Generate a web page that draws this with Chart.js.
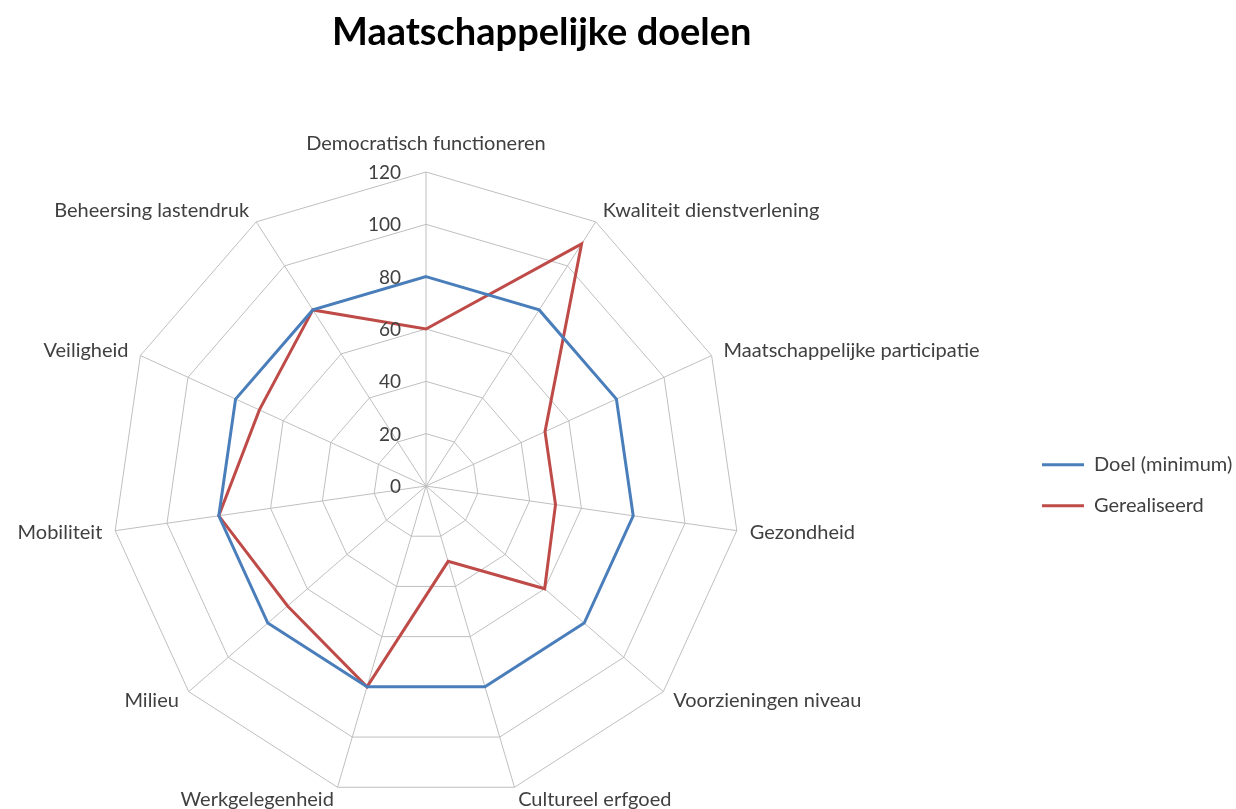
<!DOCTYPE html>
<html>
<head>
<meta charset="utf-8">
<script src="https://cdn.jsdelivr.net/npm/chart.js@4"></script>
<style>
  body { margin: 0; background: #fff; }
  #wrap { width: 1236px; height: 809px; position: relative; }
</style>
</head>
<body>
<div id="wrap"><canvas id="radar"></canvas></div>
<script>
const labels = [
  "Democratisch functioneren",
  "Kwaliteit dienstverlening",
  "Maatschappelijke participatie",
  "Gezondheid",
  "Voorzieningen niveau",
  "Cultureel erfgoed",
  "Werkgelegenheid",
  "Milieu",
  "Mobiliteit",
  "Veiligheid",
  "Beheersing lastendruk"
];
const doel = [80, 80, 80, 80, 80, 80, 80, 80, 80, 80, 80];
const gerealiseerd = [60, 110, 50, 50, 60, 30, 80, 70, 80, 70, 80];
const tickMin = 0;
const tickMax = 120;
const tickStep = 20;

const textColor = "#404040";
const fontFamily = "Lato, 'Open Sans', sans-serif";

// Excel-style labels: ticks left of the vertical axis, category names outside the corners
const excelLabels = {
  id: "excelLabels",
  afterDraw(chart) {
    const s = chart.scales.r;
    const ctx = chart.ctx;
    ctx.save();
    ctx.fillStyle = textColor;

    ctx.font = "19px " + fontFamily;
    ctx.textAlign = "right";
    ctx.textBaseline = "middle";
    s.ticks.forEach(t => {
      const d = s.getDistanceFromCenterForValue(t.value);
      ctx.fillText(t.label, s.xCenter - 25, s.yCenter - d + 1);
    });

    ctx.font = "20px " + fontFamily;
    chart.data.labels.forEach((lab, i) => {
      const p = s.getPointPosition(i, s.drawingArea + (i === 0 ? 28 : 13));
      if (Math.abs(p.x - s.xCenter) < 2) ctx.textAlign = "center";
      else ctx.textAlign = p.x > s.xCenter ? "left" : "right";
      ctx.fillText(lab, p.x, p.y);
    });
    ctx.restore();
  }
};

new Chart(document.getElementById("radar"), {
  type: "radar",
  data: {
    labels: labels,
    datasets: [
      { label: "Doel (minimum)", data: doel, borderColor: "#4a7ebb", backgroundColor: "#4a7ebb", borderWidth: 3, pointRadius: 0, fill: false, tension: 0 },
      { label: "Gerealiseerd", data: gerealiseerd, borderColor: "#be4b48", backgroundColor: "#be4b48", borderWidth: 3, pointRadius: 0, fill: false, tension: 0 }
    ]
  },
  options: {
    responsive: true,
    maintainAspectRatio: false,
    animation: false,
    layout: { padding: { left: 332 } },
    scales: {
      r: {
        min: tickMin,
        max: tickMax,
        ticks: { stepSize: tickStep, display: false },
        grid: { color: "#bfbfbf", lineWidth: 1 },
        angleLines: { color: "#bfbfbf", lineWidth: 1 },
        pointLabels: { display: false },
        afterFit: (scale) => {
          scale.xCenter = 426;
          scale.yCenter = 486;
          scale.drawingArea = 314;
        }
      }
    },
    plugins: {
      title: {
        display: true,
        text: "Maatschappelijke doelen",
        align: "start",
        color: "#000",
        font: { family: fontFamily, size: 38, weight: "bold" },
        padding: { top: 10, bottom: 106 }
      },
      legend: {
        position: "right",
        fullSize: false,
        maxWidth: 215,
        labels: {
          usePointStyle: true,
          pointStyle: "line",
          pointStyleWidth: 42,
          padding: 21,
          color: textColor,
          font: { family: fontFamily, size: 20 }
        }
      },
      tooltip: { enabled: false }
    }
  },
  plugins: [excelLabels]
});
</script>
</body>
</html>
